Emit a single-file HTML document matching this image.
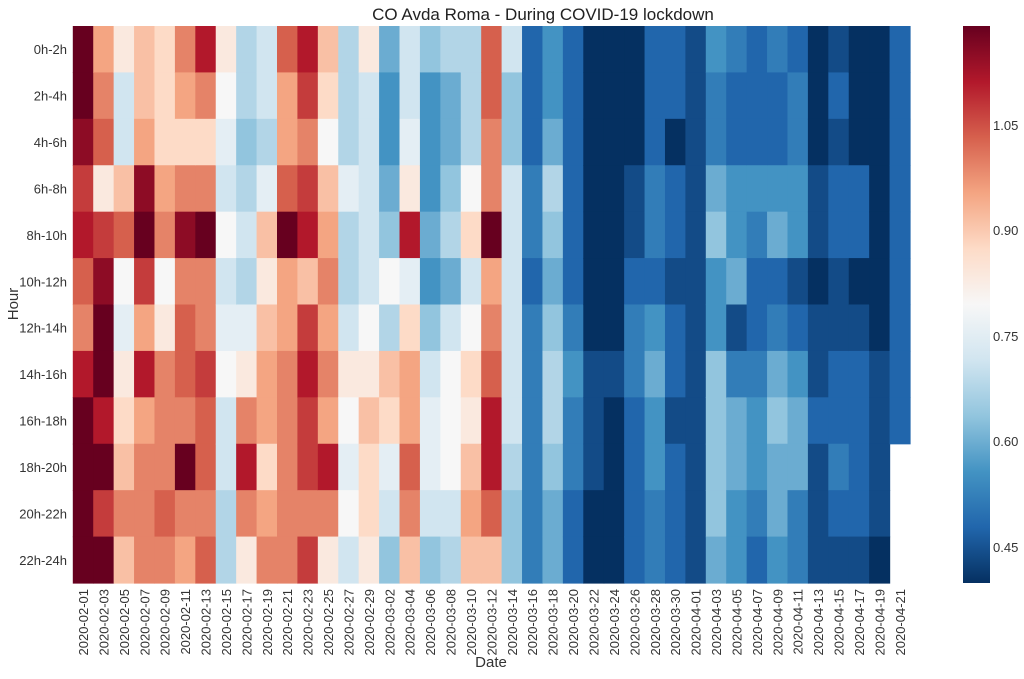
<!DOCTYPE html>
<html><head><meta charset="utf-8"><style>
body{margin:0;background:#fff;width:1024px;height:674px;overflow:hidden;font-family:"Liberation Sans",sans-serif}
</style></head><body>
<svg id="s" width="1024" height="674" xmlns="http://www.w3.org/2000/svg" font-family="Liberation Sans, sans-serif">
<defs><linearGradient id="cb" x1="0" y1="1" x2="0" y2="0">
<stop offset="0" stop-color="#053061"/><stop offset="0.1" stop-color="#2166ac"/><stop offset="0.2" stop-color="#4393c3"/><stop offset="0.3" stop-color="#92c5de"/><stop offset="0.4" stop-color="#d1e5f0"/><stop offset="0.5" stop-color="#f7f7f7"/><stop offset="0.6" stop-color="#fddbc7"/><stop offset="0.7" stop-color="#f4a582"/><stop offset="0.8" stop-color="#d6604d"/><stop offset="0.9" stop-color="#b2182b"/><stop offset="1" stop-color="#67001f"/>
</linearGradient></defs>
<text x="543" y="20" font-size="17" text-anchor="middle" fill="#222">CO Avda Roma - During COVID-19 lockdown</text>
<g id="hm"></g>
<rect x="963" y="26" width="27" height="557" fill="url(#cb)"/>
<g font-size="13" fill="#333">
<text x="993" y="130">1.05</text><text x="993" y="235">0.90</text><text x="993" y="341">0.75</text><text x="993" y="446">0.60</text><text x="993" y="552">0.45</text>
</g>
<text transform="translate(18,304) rotate(-90)" font-size="15" text-anchor="middle" fill="#333">Hour</text>
<text x="491" y="667" font-size="15" text-anchor="middle" fill="#333">Date</text>
<g id="lbl" font-size="13" fill="#333"></g>
</svg>
<script>
var cols=["uutrsqpsuuuu","opqlrtuusuru","liinqkjlmnpn","nnoturosoppp","mmmopklpppqp","pomptpqqpupo","spmpupprqqpq","lkjikijkiihh","hhghihjlpspl","iihjnlnoomop","qooquooppppp","srprsnrsrrpr","nmknopopospl","hhhjhhilkjki","liiiiiklnmml","feefgkhnmjig","iijlsjmooqpn","geeefegijjig","hffghfikkkih","hhhkmikmlnon","qqppuopqssqn","iggiiiiiihgg","cccddcdddddd","eefhgfghhgff","ccccccdeddcc","aaaaaaabbbaa","aaaaaaabaaaa","aaabbcddcccc","cccddcefeedd","ccaccbccbccc","bbbbbbbbbbbb","eddfgeeggggf","dcceefbdffee","cccedccdeedc","dccefcdfgffe","cddeebceffdd","aaabbabbcbbb","bcbccbbccdcb","aaaccabccccb","aaaaaaabbbba","ccccccccc"];
var st=[[5,48,97],[33,102,172],[67,147,195],[146,197,222],[209,229,240],[247,247,247],[253,219,199],[244,165,130],[214,96,77],[178,24,43],[103,0,31]];
function col(ch){var t=(ch.charCodeAt(0)-97)/20;t=Math.max(0,Math.min(1,t));var p=t*10,i=Math.min(9,Math.floor(p)),f=p-i,a=st[i],b=st[i+1];
return "rgb("+[0,1,2].map(k=>Math.round(a[k]+(b[k]-a[k])*f)).join(",")+")";}
var x0=72.8,w=(910-72.8)/41,y0=26,h=(583-26)/12,s="";
for(var c=0;c<41;c++){var d=cols[c];for(var r=0;r<d.length&&r<12;r++){s+='<rect x="'+(x0+c*w).toFixed(2)+'" y="'+(y0+r*h).toFixed(2)+'" width="'+(w+0.6).toFixed(2)+'" height="'+(h+0.6).toFixed(2)+'" fill="'+col(d[r])+'"/>';}}
document.getElementById("hm").innerHTML=s;
var L="",hrs=["0h-2h","2h-4h","4h-6h","6h-8h","8h-10h","10h-12h","12h-14h","14h-16h","16h-18h","18h-20h","20h-22h","22h-24h"];
for(var r=0;r<12;r++)L+='<text x="67" y="'+(y0+(r+0.5)*h+5).toFixed(1)+'" text-anchor="end">'+hrs[r]+'</text>';
var dt=new Date(Date.UTC(2020,1,1));
for(var c=0;c<41;c++){var dd=new Date(dt.getTime()+c*2*86400000);var str=dd.toISOString().slice(0,10);var cx=x0+(c+0.5)*w+5;
L+='<text transform="translate('+cx.toFixed(1)+',589) rotate(-90)" text-anchor="end">'+str+'</text>';}
document.getElementById("lbl").innerHTML=L;
</script>
</body></html>
